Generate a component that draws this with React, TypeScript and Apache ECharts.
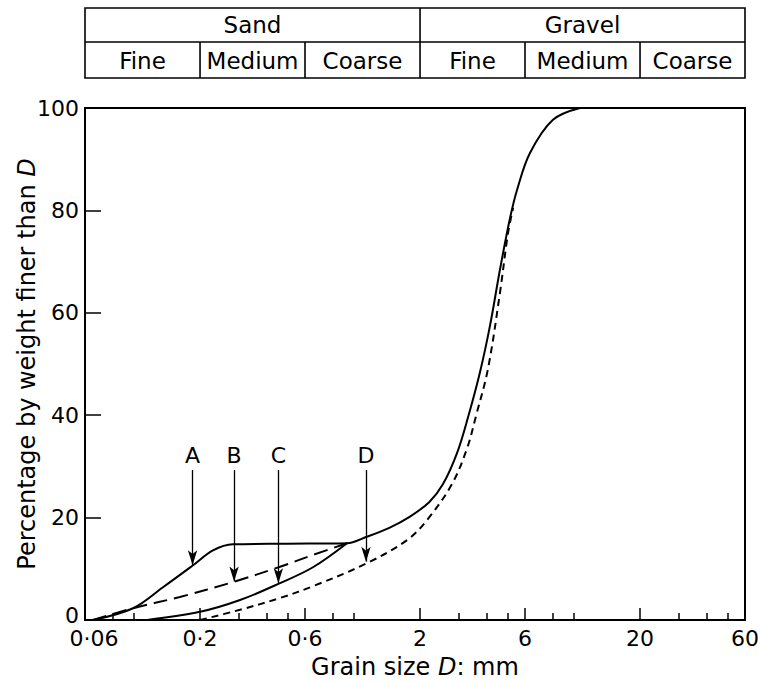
import React, { useEffect, useRef } from 'react';
import * as echarts from 'echarts';

// Axis ticks (grain size in mm, log scale) and labels
const xMajorTicks = [0.06, 0.2, 0.6, 2, 6, 20, 60];
const xMajorLabels = ['0·06', '0·2', '0·6', '2', '6', '20', '60'];
const xMinorTicks = [0.08, 0.1, 0.3, 0.4, 0.5, 0.8, 1, 3, 4, 5, 8, 10, 30, 40, 50];

// Soil classification header
const soilGroups = ['Sand', 'Gravel'];
const soilSubGroups = ['Fine', 'Medium', 'Coarse', 'Fine', 'Medium', 'Coarse'];

// Grading curves: [grain size mm, % finer]
const curveA: [number, number][] = [
  [0.0652, 0], [0.0992, 2.3], [0.1357, 6.4], [0.186, 10.7], [0.229, 13.6], [0.282, 14.8],
  [0.5, 14.9], [0.931, 15.0], [1.136, 16.2], [1.45, 18], [1.8, 20.2], [2.2, 23], [2.54, 26.5],
  [2.945, 32.6], [3.3, 39.5], [3.75, 48.5], [4.16, 57.5], [4.62, 68.5], [5.13, 78.5], [5.52, 84],
  [6.32, 91.2], [8.04, 97.7], [10.67, 100],
];
const curveB: [number, number][] = [
  [0.0652, 0], [0.0992, 2.3], [0.162, 4.5], [0.282, 7.4], [0.462, 10.4], [0.652, 12.7], [0.931, 15.0],
];
const curveC: [number, number][] = [
  [0.115, 0], [0.2, 1.6], [0.304, 3.9], [0.462, 7.2], [0.652, 10.3], [0.931, 15.0],
];
const curveD: [number, number][] = [
  [0.2, 0], [0.304, 2], [0.462, 4.3], [0.652, 6.6], [1.148, 11.1], [1.746, 15.6],
  [2.15, 19.5], [2.79, 26.5], [3.27, 33.5], [3.6, 40], [4.07, 49], [4.62, 64], [5.02, 75.5], [5.3, 80.5],
];

// Arrow annotations
const arrowNames = ['A', 'B', 'C', 'D'];
const arrowSizes = [0.185, 0.2856, 0.454, 1.136];
const arrowTips = [10.7, 7.5, 7.2, 11.4];
const arrowTop = 29.3;

const FONT = '"DejaVu Sans", sans-serif';
const FS = 22;
const TFS = 24;
const HFS = 23;

export default function App() {
  const ref = useRef<HTMLDivElement>(null);
  useEffect(() => {
    const el = ref.current!;
    const chart = echarts.init(el, null, { renderer: 'svg' });
    const mk = (name: string, data: [number, number][], dash: any, extra: any = {}) => ({
      type: 'line',
      name,
      data,
      showSymbol: false,
      symbol: 'none',
      smooth: 0.35,
      silent: true,
      z: 3,
      lineStyle: { color: '#000', width: 2, type: dash },
      ...extra,
    });
    const fmt = (v: number) => {
      const i = xMajorTicks.findIndex((t) => Math.abs(t - v) / t < 1e-6);
      if (i === 0) return '{f|' + xMajorLabels[0] + '}';
      return i >= 0 ? xMajorLabels[i] : '';
    };
    chart.setOption({
      animation: false,
      backgroundColor: '#fff',
      grid: {
        left: 85, top: 108, width: 660, height: 512, show: true, borderColor: '#000', borderWidth: 2,
        containLabel: false, outerBoundsMode: 'none',
      },
      xAxis: [
        {
          type: 'log',
          logBase: 10,
          min: 0.06,
          max: 60,
          position: 'bottom',
          axisLine: { show: true, lineStyle: { color: '#000', width: 2 } },
          axisTick: { show: true, inside: true, length: 12, customValues: xMajorTicks, lineStyle: { color: '#000', width: 1.5 } },
          axisLabel: {
            show: true,
            customValues: xMajorTicks,
            formatter: fmt,
            color: '#000',
            fontFamily: FONT,
            fontSize: FS,
            margin: 7,
            rich: { f: { fontFamily: FONT, fontSize: FS, color: '#000', padding: [0, 0, 0, 18] } },
          },
          splitLine: { show: false },
          minorTick: { show: false },
          name: '{n|Grain size }{i|D}{n|: mm}',
          nameLocation: 'middle',
          nameGap: 35,
          nameMoveOverlap: false,
          nameTextStyle: {
            color: '#000',
            fontFamily: FONT,
            fontSize: TFS,
            rich: {
              n: { fontFamily: FONT, fontSize: TFS, color: '#000' },
              i: { fontFamily: FONT, fontSize: TFS, color: '#000', fontStyle: 'italic' },
            },
          },
        },
        {
          type: 'log',
          logBase: 10,
          min: 0.06,
          max: 60,
          position: 'bottom',
          axisLine: { show: false },
          axisTick: { show: true, inside: true, length: 7, customValues: xMinorTicks, lineStyle: { color: '#000', width: 1.5 } },
          axisLabel: { show: false },
          splitLine: { show: false },
        },
      ],
      yAxis: {
        type: 'value',
        min: 0,
        max: 100,
        interval: 20,
        axisLine: { show: true, lineStyle: { color: '#000', width: 2 } },
        axisTick: { show: true, inside: true, length: 16, lineStyle: { color: '#000', width: 1.5 } },
        axisLabel: {
          color: '#000',
          fontFamily: FONT,
          fontSize: FS,
          margin: 6,
          formatter: (v: number) => (v === 0 ? '{z|0}' : String(v)),
          rich: { z: { fontFamily: FONT, fontSize: FS, color: '#000', padding: [0, 0, 9, 0] } },
        },
        splitLine: { show: false },
        name: '{n|Percentage by weight finer than }{i|D}',
        nameLocation: 'middle',
        nameGap: 46,
        nameMoveOverlap: false,
        nameTextStyle: {
          color: '#000',
          fontFamily: FONT,
          fontSize: TFS,
          rich: {
            n: { fontFamily: FONT, fontSize: TFS, color: '#000' },
            i: { fontFamily: FONT, fontSize: TFS, color: '#000', fontStyle: 'italic' },
          },
        },
      },
      series: [
        mk('A', curveA, 'solid', {
          markLine: {
            silent: true,
            symbol: ['none', 'arrow'],
            symbolSize: [7, 15],
            lineStyle: { color: '#000', width: 1.3, type: 'solid' },
            label: {
              show: true,
              position: 'start',
              formatter: (p: any) => p.name,
              color: '#000',
              fontFamily: FONT,
              fontSize: FS,
              distance: 3,
            },
            emphasis: { disabled: true },
            data: arrowNames.map((n, i) => [
              { name: n, coord: [arrowSizes[i], arrowTop] },
              { coord: [arrowSizes[i], arrowTips[i]] },
            ]),
          },
        }),
        mk('B', curveB, [14, 7]),
        mk('C', curveC, 'solid'),
        mk('D', curveD, [7, 5]),
      ],
    });

    const px = xMajorTicks.map((v) => chart.convertToPixel({ xAxisIndex: 0 }, v) as number);
    const top = 8;
    const mid = 42;
    const bot = 78;
    const stroke = { stroke: '#000', lineWidth: 1.6 };
    const graphics: any[] = [
      { type: 'rect', shape: { x: px[0], y: top, width: px[6] - px[0], height: bot - top }, style: { fill: 'none', ...stroke } },
      { type: 'line', shape: { x1: px[0], y1: mid, x2: px[6], y2: mid }, style: stroke },
      { type: 'line', shape: { x1: px[3], y1: top, x2: px[3], y2: bot }, style: stroke },
    ];
    [1, 2, 4, 5].forEach((k) => {
      graphics.push({ type: 'line', shape: { x1: px[k], y1: mid, x2: px[k], y2: bot }, style: stroke });
    });
    soilGroups.forEach((g, i) => {
      const x0 = i === 0 ? px[0] : px[3];
      const x1 = i === 0 ? px[3] : px[6];
      graphics.push({
        type: 'text',
        x: (x0 + x1) / 2,
        y: (top + mid) / 2,
        style: { text: g, fill: '#000', font: `${HFS}px ${FONT}`, textAlign: 'center', textVerticalAlign: 'middle' },
      });
    });
    soilSubGroups.forEach((g, i) => {
      graphics.push({
        type: 'text',
        x: (px[i] + px[i + 1]) / 2,
        y: (mid + bot) / 2 + 1,
        style: { text: g, fill: '#000', font: `${HFS}px ${FONT}`, textAlign: 'center', textVerticalAlign: 'middle' },
      });
    });
    chart.setOption({ graphic: graphics });
    return () => chart.dispose();
  }, []);
  return (
    <div
      ref={ref}
      style={{ position: 'fixed', left: 0, top: 0, width: 760, height: 682, background: '#fff' }}
    />
  );
}
